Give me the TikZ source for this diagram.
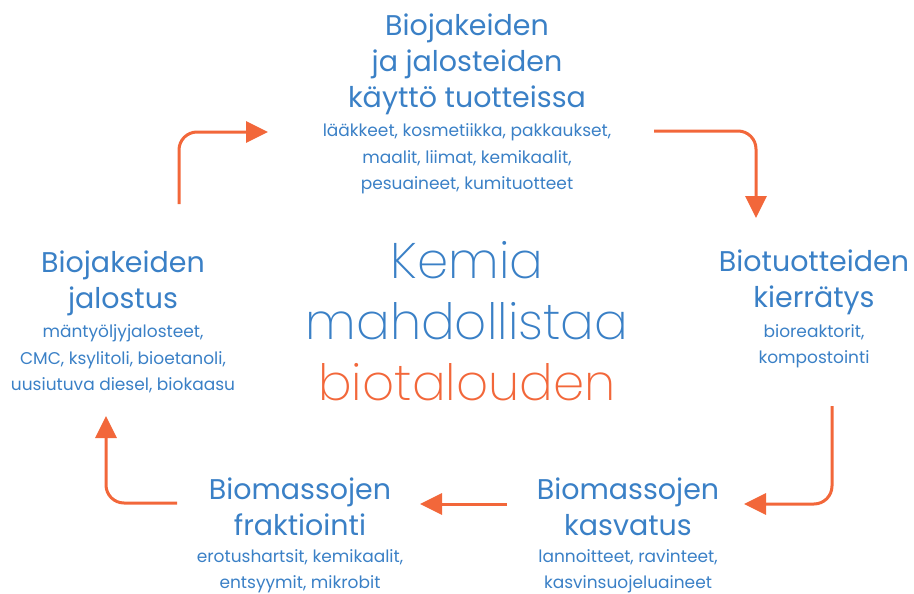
\documentclass[tikz,border=0pt]{standalone}
\usepackage{fontspec}
\setmainfont{Poppins}
\newfontfamily\thinfont{Poppins ExtraLight}
\usetikzlibrary{arrows.meta}
\definecolor{bioblue}{HTML}{3A80C6}
\definecolor{bioorange}{HTML}{F2673A}
\tikzset{
  title/.style={text=bioblue, align=center, inner sep=0pt, font=\fontsize{28.5}{36}\selectfont},
  sub/.style={text=bioblue, align=center, inner sep=0pt, font=\fontsize{17}{26.5}\selectfont},
  flow/.style={draw=bioorange, line width=3pt, rounded corners=18pt, -{Triangle[length=22pt,width=21pt]}}
}
\begin{document}
\begin{tikzpicture}[x=1pt,y=-1pt]
            \useasboundingbox (0,0) rectangle (914,594);

            % stages
            \node[title] (use) at (467,64) {Biojakeiden\\ja jalosteiden\\käyttö tuotteissa};
            \node[sub] (usesub) at (467,159) {lääkkeet, kosmetiikka, pakkaukset,\\maalit, liimat, kemikaalit,\\pesuaineet, kumituotteet};
            \node[title] (recycle) at (814,282) {Biotuotteiden\\kierrätys};
            \node[sub] (recyclesub) at (814,346) {bioreaktorit,\\kompostointi};
            \node[title] (grow) at (628,507) {Biomassojen\\kasvatus};
            \node[sub] (growsub) at (628,571) {lannoitteet, ravinteet,\\kasvinsuojeluaineet};
            \node[title] (fract) at (300,507) {Biomassojen\\fraktiointi};
            \node[sub] (fractsub) at (300,571) {erotushartsit, kemikaalit,\\entsyymit, mikrobit};
            \node[title] (refine) at (123,283) {Biojakeiden\\jalostus};
            \node[sub] (refinesub) at (123,359) {mäntyöljyjalosteet,\\CMC, ksylitoli, bioetanoli,\\uusiutuva diesel, biokaasu};

            % center
            \node[align=center, inner sep=0pt, font=\thinfont\fontsize{50}{61}\selectfont] (kemia) at (467,321)
                {\textcolor{bioblue}{Kemia}\\\textcolor{bioblue}{mahdollistaa}\\\textcolor{bioorange}{biotalouden}};

            % arrow ends
            \coordinate (a1) at (179,204);
            \coordinate (a1e) at (268,132);
            \coordinate (a2) at (654,131);
            \coordinate (a2e) at (756,218);
            \coordinate (a3) at (832,406);
            \coordinate (a3e) at (744,504);
            \coordinate (a4) at (507,504);
            \coordinate (a4e) at (420,504);
            \coordinate (a5) at (177,503);
            \coordinate (a5e) at (106,416);

            \draw[flow] (a1) |- (a1e);
            \draw[flow] (a2) -| (a2e);
            \draw[flow] (a3) |- (a3e);
            \draw[flow] (a4) -- (a4e);
            \draw[flow] (a5) -| (a5e);

        \end{tikzpicture}
\end{document}
